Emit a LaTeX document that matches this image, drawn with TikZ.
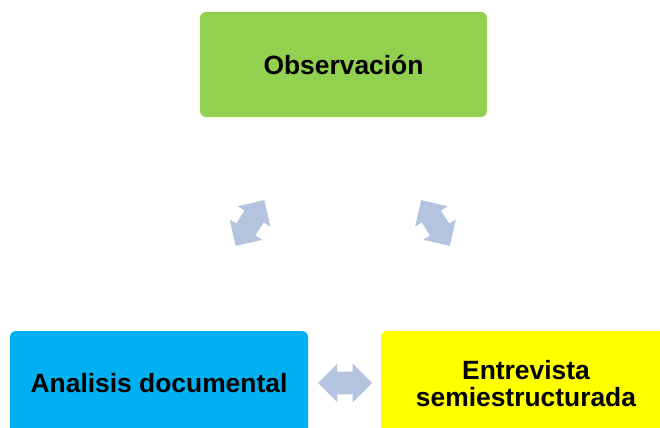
\documentclass[tikz,border=0pt]{standalone}
\usepackage{fontspec}
\setmainfont{Liberation Sans}
\usetikzlibrary{shapes.arrows}
\definecolor{boxgreen}{HTML}{92D050}
\definecolor{boxcyan}{HTML}{00B0F0}
\definecolor{boxyellow}{HTML}{FFFF00}
\definecolor{linkblue}{HTML}{B4C3DE}
\tikzset{method box/.style={
    rounded corners=4.5pt,
    inner sep=0pt,
    align=center,
    font=\fontsize{19.8}{20.5}\selectfont\bfseries,
    minimum width=#1,
    minimum height=78.75pt
  },
  link arrow/.style={
    double arrow,
    fill=linkblue,
    inner xsep=0pt,
    inner ysep=8.25pt,
    minimum height=40.5pt,
    double arrow head extend=6pt
  }
}

\begin{document}
\begin{tikzpicture}[x=0.75pt,y=-0.75pt]
  % -- Fix the page size.
  \clip (0,0) rectangle (660,428);

  % -- The three methods.
  \node[method box=215.25pt,fill=boxgreen] (obs) at (343.5,64.5) {Observación};
  \node[method box=223.5pt,fill=boxcyan] (ana) at (159,383.5) {Analisis documental};
  \node[method box=217.5pt,fill=boxyellow] (ent) at (526,383.5) {Entrevista\\semiestructurada};

  % -- The double arrows between them.
  \node[link arrow,rotate=58] (obsana) at (250,223) {};
  \node[link arrow,rotate=-58] (obsent) at (435.5,223) {};
  \node[link arrow] (anaent) at (345,383) {};
\end{tikzpicture}
\end{document}
